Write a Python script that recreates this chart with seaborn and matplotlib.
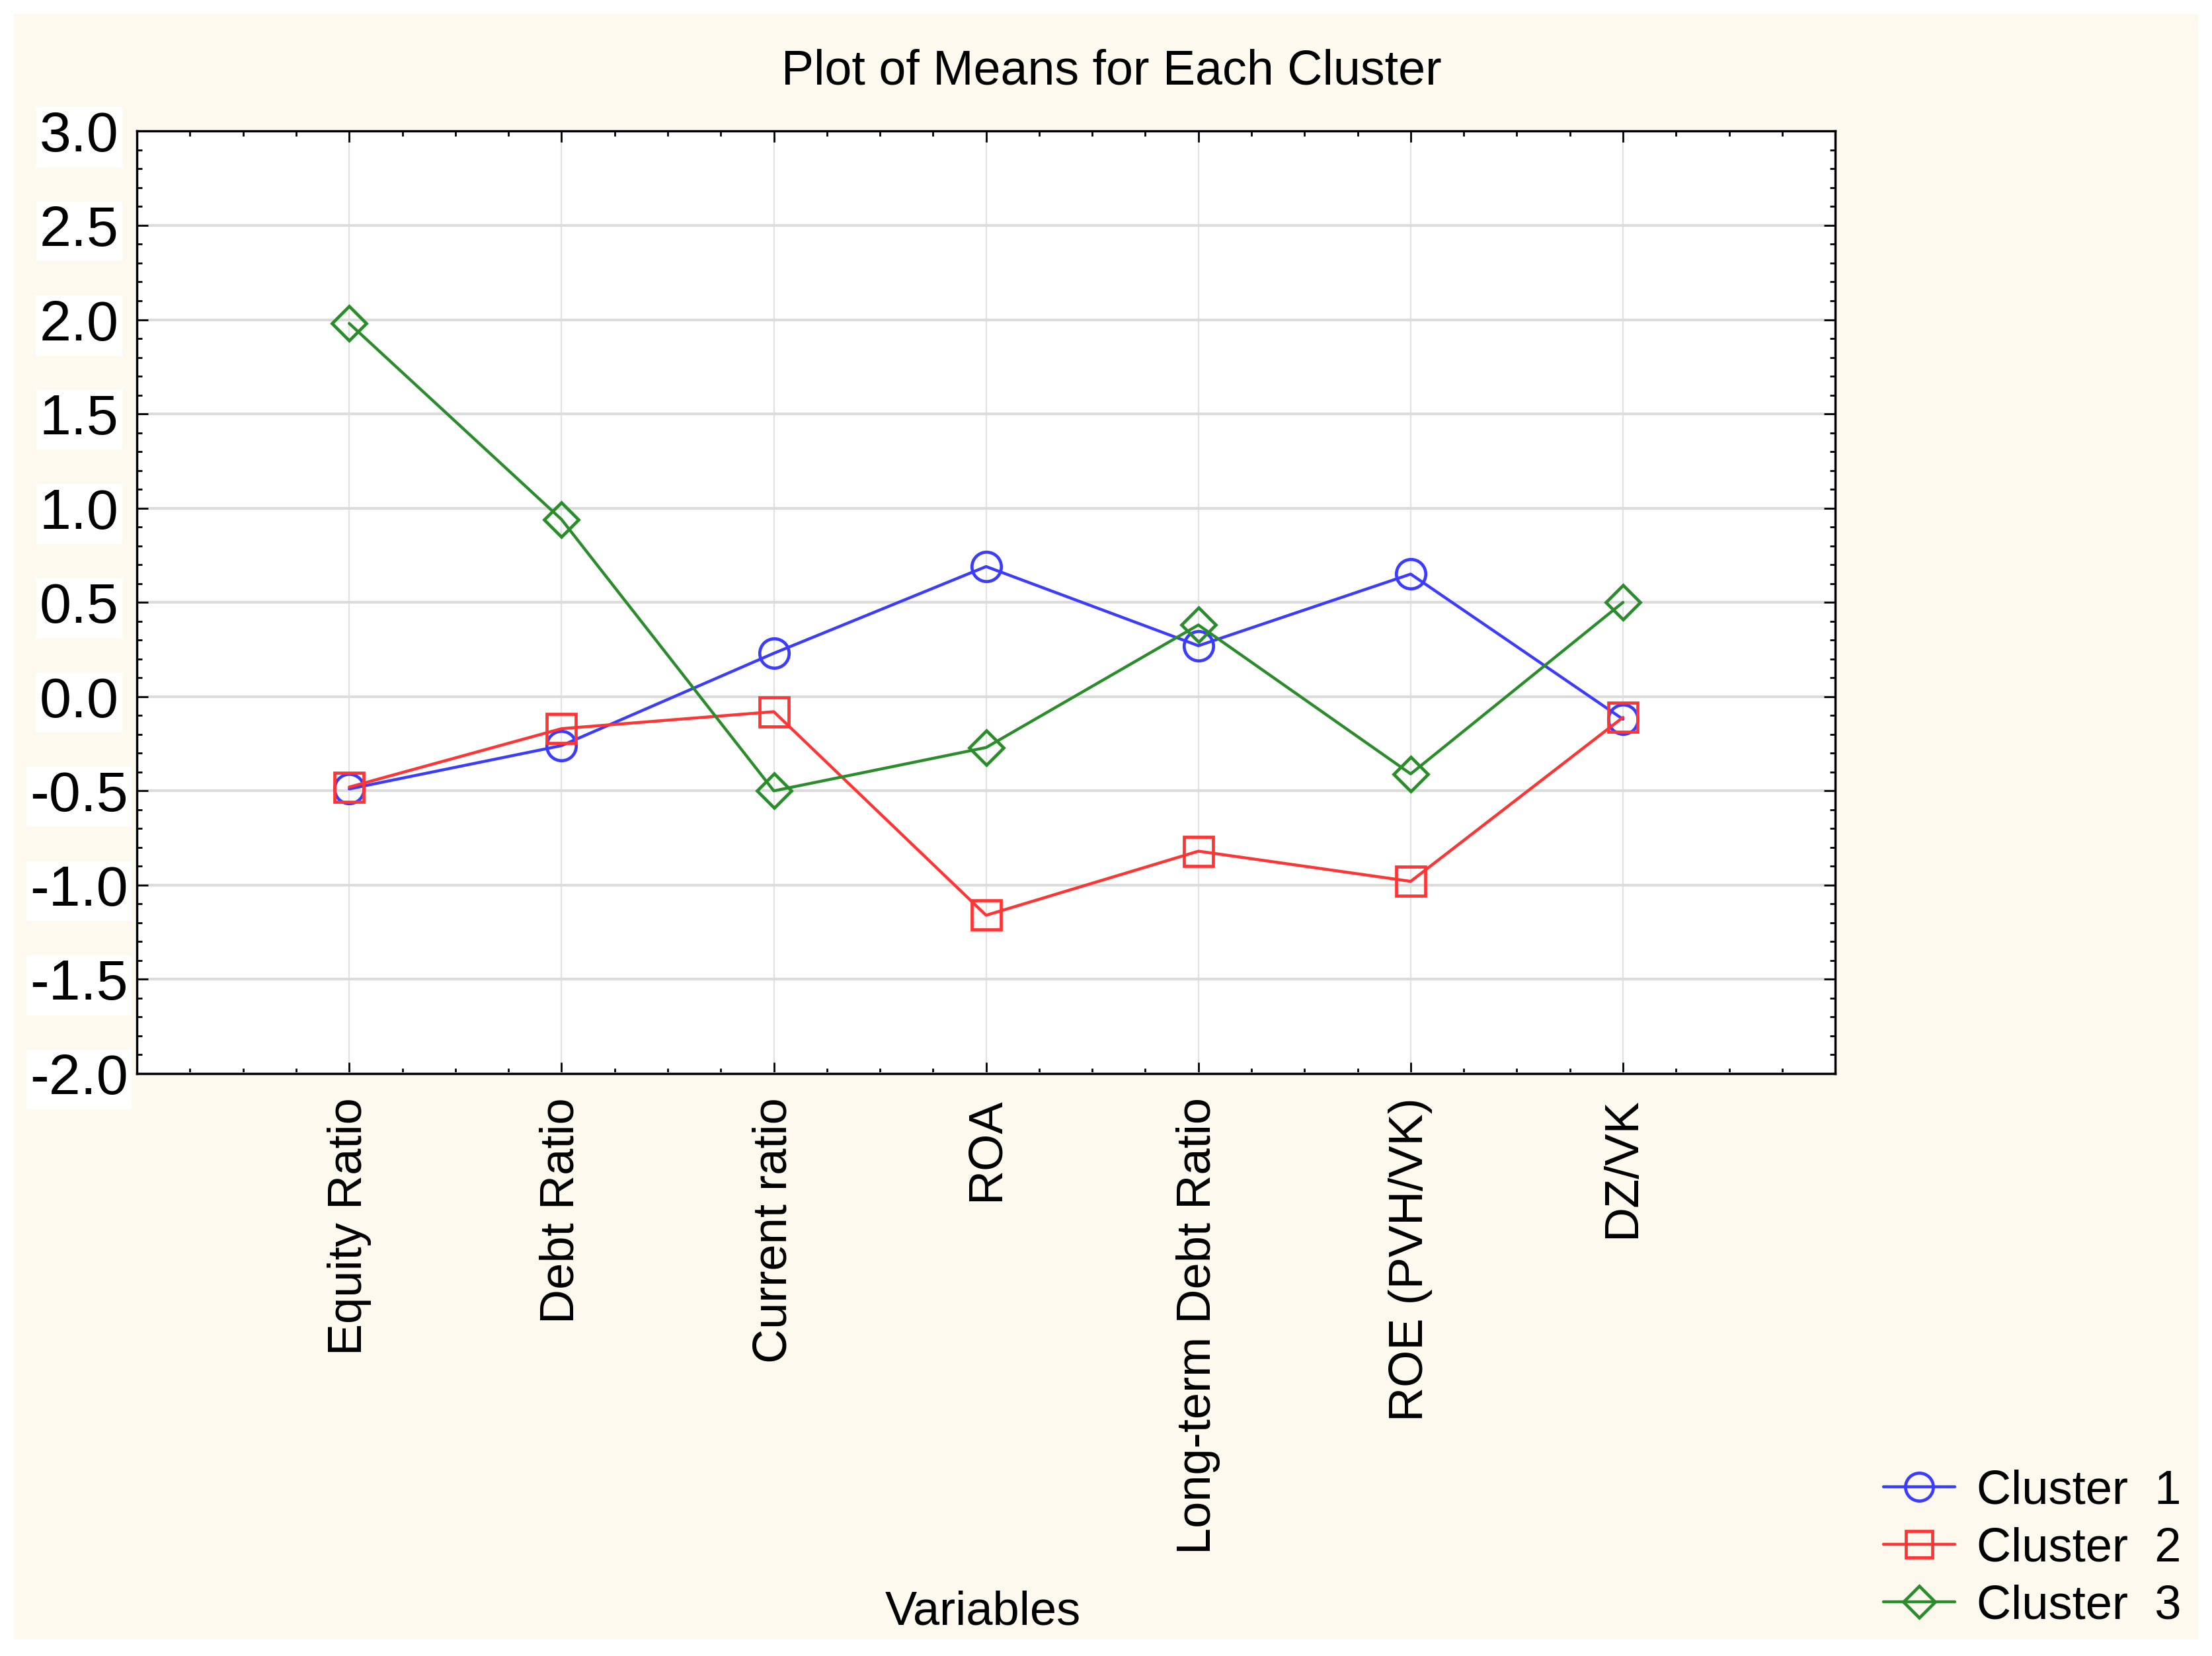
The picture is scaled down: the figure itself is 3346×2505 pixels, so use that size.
import numpy as np
import pandas as pd
import seaborn as sns
import matplotlib.pyplot as plt
from matplotlib.lines import Line2D
from matplotlib.patches import Rectangle
from matplotlib.ticker import MultipleLocator

# DATA
variables = ['Equity Ratio', 'Debt Ratio', 'Current ratio', 'ROA',
             'Long-term Debt Ratio', 'ROE (PVH/VK)', 'DZ/VK']
clusters = ['Cluster  1', 'Cluster  2', 'Cluster  3']
cluster1 = [-0.49, -0.26, 0.23, 0.69, 0.27, 0.65, -0.12]
cluster2 = [-0.48, -0.17, -0.08, -1.16, -0.82, -0.98, -0.11]
cluster3 = [1.98, 0.94, -0.50, -0.27, 0.38, -0.41, 0.50]
yticks = [-2.0, -1.5, -1.0, -0.5, 0.0, 0.5, 1.0, 1.5, 2.0, 2.5, 3.0]

# STYLE
colors = ['#3c3cff', '#ff3434', '#2a8c2a']
markers = ['o', 's', 'D']
marker_sizes = [32, 31, 26]

sns.set_style("white")
plt.rcParams['font.family'] = ['Liberation Sans', 'DejaVu Sans']
plt.rcParams['text.color'] = 'black'
plt.rcParams['xtick.color'] = 'black'
plt.rcParams['ytick.color'] = 'black'

df = pd.DataFrame({'variable': variables * 3,
                   'mean': cluster1 + cluster2 + cluster3,
                   'cluster': np.repeat(clusters, len(variables))})

fig = plt.figure(figsize=(33.46, 25.05), dpi=100, facecolor='white')
# cream panel behind everything
fig.patches.append(Rectangle((0.0063, 0.010), 0.9874, 0.9816, transform=fig.transFigure,
                             facecolor='#fdf9ee', edgecolor='none', zorder=-10))
ax = fig.add_axes([0.0619, 0.3517, 0.7678, 0.5691])
ax.set_facecolor('white')

sns.lineplot(data=df, x='variable', y='mean', hue='cluster', style='cluster',
             markers=markers, dashes=False, palette=colors, sort=False,
             linewidth=3.2, markersize=30, legend=False, ax=ax)

# open markers in line colour
for line, ms in zip(ax.lines, marker_sizes):
    line.set_markeredgecolor(line.get_color())
    line.set_markerfacecolor('none')
    line.set_markeredgewidth(3.4)
    line.set_markersize(ms)

ax.set_xlim(-1, 7)
ax.set_ylim(-2, 3)
ax.set_xticks(range(len(variables)))
ax.set_xticklabels(variables, rotation=90, fontsize=52)
ax.set_yticks(yticks)
ax.set_yticklabels([f'{v:.1f}' for v in yticks], fontsize=62, ha='center')
for lab in ax.get_yticklabels():
    lab.set_bbox(dict(facecolor='white', edgecolor='none', pad=4))
ax.xaxis.set_minor_locator(MultipleLocator(0.25))
ax.yaxis.set_minor_locator(MultipleLocator(0.1))
ax.set_xlabel('')
ax.set_ylabel('')

ax.set_axisbelow(True)
ax.grid(True, which='major', axis='y', color='#dcdcdc', linewidth=3)
ax.grid(True, which='major', axis='x', color='#e2e2e2', linewidth=1.6)
for sp in ax.spines.values():
    sp.set_color('black')
    sp.set_linewidth(2.5)
ax.tick_params(which='both', direction='in', top=True, right=True,
               bottom=True, left=True, color='black', width=2)
ax.tick_params(which='major', length=12)
ax.tick_params(which='minor', length=6)
ax.tick_params(axis='x', which='major', pad=26)
ax.tick_params(axis='y', which='major', pad=63)

fig.text(0.5025, 0.957, 'Plot of Means for Each Cluster', ha='center', va='center', fontsize=53)
fig.text(0.4445, 0.0264, 'Variables', ha='center', va='center', fontsize=52)

handles = [Line2D([], [], color=c, marker=m, mfc='none', mec=c, lw=3.2, mew=3.4, ms=s * 0.95)
           for c, m, s in zip(colors, markers, marker_sizes)]
fig.legend(handles, clusters, loc='center left', bbox_to_anchor=(0.8515, 0.0647),
           frameon=False, fontsize=52, handlelength=1.5, handletextpad=0.45,
           labelspacing=0.28, borderpad=0, borderaxespad=0)

fig.savefig('out.png', dpi=100, facecolor=fig.get_facecolor())
